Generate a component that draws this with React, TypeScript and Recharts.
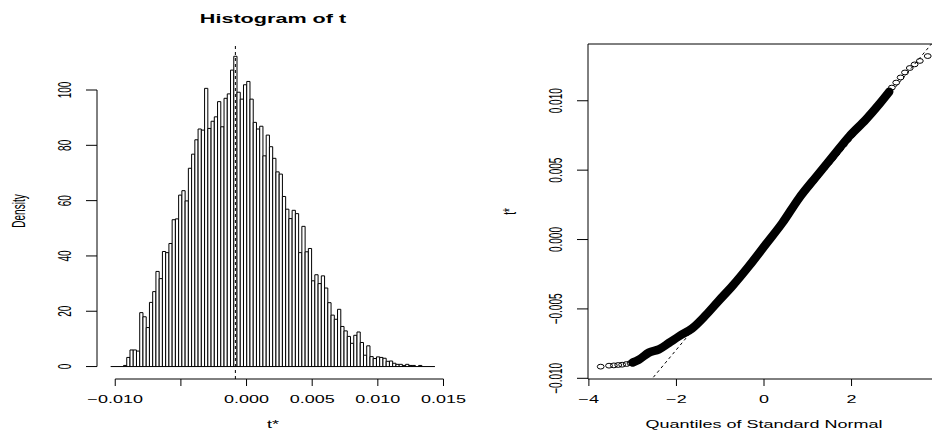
import React from 'react';
import {
  ComposedChart,
  Bar,
  Line,
  Scatter,
  XAxis,
  YAxis,
  ReferenceLine,
  ReferenceArea,
  Label,
} from 'recharts';

const FONT = '"Liberation Sans", Arial, Helvetica, sans-serif';
// the original device was stretched sideways, so text is widened
const STRETCH = 1.8;

// Histogram of t (100 equal bins)
const histStart = -0.01035;
const histBinWidth = 0.000247;
const histDensity = [
  0, 0, 0, 0, 0.4, 3.3, 6.0, 6.0, 5.6, 19.5,
  18.0, 14.1, 23.2, 27.1, 34.4, 31.8, 41.6, 41.2, 44.5, 53.1,
  53.4, 62.0, 63.6, 59.9, 71.7, 76.8, 82.0, 85.9, 85.5, 100.6,
  86.1, 88.7, 90.3, 95.8, 86.7, 97.0, 98.6, 107.2, 112.2, 99.2,
  96.7, 101.9, 103.1, 96.7, 88.3, 85.9, 86.9, 76.2, 83.7, 79.5,
  75.3, 70.4, 69.6, 61.5, 56.9, 53.5, 56.5, 55.3, 41.2, 50.7,
  41.5, 42.7, 31.0, 33.2, 30.0, 32.8, 28.4, 23.1, 18.6, 17.1,
  20.7, 14.5, 12.9, 10.9, 8.4, 11.3, 12.5, 8.7, 4.1, 7.5,
  3.6, 2.9, 3.5, 3.3, 3.0, 1.9, 2.0, 1.2, 0.8, 0.8,
  0.4, 0.8, 0.4, 0.4, 0, 0.4, 0, 0, 0, 0,
];
const t0 = -0.00085;
const histXTicks = [-0.01, -0.005, 0, 0.005, 0.01, 0.015];
const histXTickLabels = ['\u22120.010', '', '0.000', '0.005', '0.010', '0.015'];
const histYTicks = [0, 20, 40, 60, 80, 100];
const histYTickLabels = ['0', '20', '40', '60', '80', '100'];

// Normal QQ plot of t*
const qqLowTail = [
  { q: -3.73, t: -0.00916 },
  { q: -3.54, t: -0.00909 },
  { q: -3.43, t: -0.00907 },
  { q: -3.33, t: -0.00904 },
  { q: -3.24, t: -0.00902 },
  { q: -3.14, t: -0.00897 },
  { q: -3.05, t: -0.0089 },
];
const qqBody = [
  { q: -3.0, t: -0.00886 },
  { q: -2.86, t: -0.00866 },
  { q: -2.63, t: -0.00815 },
  { q: -2.4, t: -0.00792 },
  { q: -2.17, t: -0.00745 },
  { q: -1.94, t: -0.00697 },
  { q: -1.64, t: -0.0064 },
  { q: -1.33, t: -0.00545 },
  { q: -1.03, t: -0.0044 },
  { q: -0.72, t: -0.00334 },
  { q: -0.34, t: -0.0019 },
  { q: 0.04, t: -0.00035 },
  { q: 0.42, t: 0.0012 },
  { q: 0.8, t: 0.00298 },
  { q: 1.18, t: 0.00448 },
  { q: 1.57, t: 0.00598 },
  { q: 1.95, t: 0.00744 },
  { q: 2.33, t: 0.00866 },
  { q: 2.63, t: 0.00975 },
  { q: 2.86, t: 0.01065 },
];
const qqHighTail = [
  { q: 2.92, t: 0.01095 },
  { q: 3.02, t: 0.01131 },
  { q: 3.12, t: 0.01168 },
  { q: 3.22, t: 0.01204 },
  { q: 3.33, t: 0.01236 },
  { q: 3.44, t: 0.01262 },
  { q: 3.56, t: 0.01287 },
  { q: 3.74, t: 0.01322 },
];
// mean(t) + sd(t) * q, end points
const qqLine = [
  { q: -4.02, t: -0.01557 },
  { q: 4.02, t: 0.01483 },
];
const qqXTicks = [-4, -2, 0, 2];
const qqXTickLabels = ['\u22124', '\u22122', '0', '2'];
const qqYTicks = [-0.01, -0.005, 0, 0.005, 0.01];
const qqYTickLabels = ['\u22120.010', '\u22120.005', '0.000', '0.005', '0.010'];

const histBins = histDensity.map((density, i) => ({
  mid: histStart + (i + 0.5) * histBinWidth,
  density,
}));

const HIST_X_DOMAIN: [number, number] = [-0.01139, 0.01542];
const HIST_Y_DOMAIN: [number, number] = [-4.5, 117];
const QQ_X_DOMAIN: [number, number] = [-4.02, 4.02];
const QQ_Y_DOMAIN: [number, number] = [-0.01005, 0.01409];
const PLOT_W = 352;
const BIN_PX = (PLOT_W * histBinWidth) / (HIST_X_DOMAIN[1] - HIST_X_DOMAIN[0]);

const textStyle = { fontFamily: FONT, fill: '#000' };

const makeXTick = (ticks: number[], labels: string[]) => (props: any) => {
  const { x, y, payload } = props;
  const i = ticks.findIndex(v => Math.abs(v - payload.value) < 1e-9);
  const label = i >= 0 ? labels[i] : '';
  return (
    <text
      transform={`translate(${x},${y + 17}) scale(${STRETCH},1)`}
      textAnchor="middle"
      fontSize={10}
      style={textStyle}
    >
      {label}
    </text>
  );
};

const makeYTick = (ticks: number[], labels: string[]) => (props: any) => {
  const { x, y, payload } = props;
  const i = ticks.findIndex(v => Math.abs(v - payload.value) < 1e-9);
  const label = i >= 0 ? labels[i] : '';
  return (
    <text
      transform={`translate(${x - 15},${y}) scale(${STRETCH},1) rotate(-90)`}
      textAnchor="middle"
      fontSize={10}
      style={textStyle}
    >
      {label}
    </text>
  );
};

const xTitle = (text: string) => (props: any) => {
  const vb = props.viewBox;
  return (
    <text
      transform={`translate(${vb.x + vb.width / 2},${vb.y + 49}) scale(${STRETCH},1)`}
      textAnchor="middle"
      fontSize={10}
      style={textStyle}
    >
      {text}
    </text>
  );
};

const yTitle = (text: string) => (props: any) => {
  const vb = props.viewBox;
  return (
    <text
      transform={`translate(${vb.x + vb.width - 72},${vb.y + vb.height / 2}) scale(${STRETCH},1) rotate(-90)`}
      textAnchor="middle"
      fontSize={10}
      style={textStyle}
    >
      {text}
    </text>
  );
};

function HistBar(props: any) {
  const { x, width, y, height } = props;
  if (!height || height <= 0) return null;
  const cx = x + width / 2;
  return (
    <path
      d={`M${cx - BIN_PX / 2},${y + height}V${y}H${cx + BIN_PX / 2}V${y + height}`}
      fill="#fff"
      stroke="#000"
      strokeWidth={1}
    />
  );
}

function Ring(props: any) {
  const { cx, cy } = props;
  return <ellipse cx={cx} cy={cy} rx={3.4} ry={2.4} fill="none" stroke="#000" strokeWidth={1} />;
}

function Histogram() {
  return (
    <ComposedChart
      width={466}
      height={432}
      data={histBins}
      margin={{ top: 43, right: 17, bottom: 0, left: 0 }}
    >
      <XAxis
        dataKey="mid"
        type="number"
        domain={HIST_X_DOMAIN}
        ticks={histXTicks}
        interval={0}
        height={53}
        axisLine={false}
        tickLine={{ stroke: '#000' }}
        tickSize={7}
        tickMargin={0}
        tick={makeXTick(histXTicks, histXTickLabels)}
      >
        <Label content={xTitle('t*')} />
      </XAxis>
      <YAxis
        type="number"
        domain={HIST_Y_DOMAIN}
        ticks={histYTicks}
        interval={0}
        width={97}
        axisLine={false}
        tickLine={{ stroke: '#000' }}
        tickSize={11}
        tickMargin={0}
        tick={makeYTick(histYTicks, histYTickLabels)}
      >
        <Label content={yTitle('Density')} />
      </YAxis>
      <ReferenceLine
        segment={[{ x: histStart, y: 0 }, { x: histStart + histDensity.length * histBinWidth, y: 0 }]}
        stroke="#000"
        strokeWidth={1}
      />
      <Bar dataKey="density" barSize={3} shape={<HistBar />} isAnimationActive={false} />
      <ReferenceLine x={t0} stroke="#000" strokeDasharray="3 3" strokeWidth={1} />
      {/* axis lines only span the tick range, as in base R */}
      <ReferenceLine
        segment={[{ x: histXTicks[0], y: HIST_Y_DOMAIN[0] }, { x: histXTicks[histXTicks.length - 1], y: HIST_Y_DOMAIN[0] }]}
        stroke="#000"
      />
      <ReferenceLine
        segment={[{ x: HIST_X_DOMAIN[0], y: histYTicks[0] }, { x: HIST_X_DOMAIN[0], y: histYTicks[histYTicks.length - 1] }]}
        stroke="#000"
      />
    </ComposedChart>
  );
}

function QQPlot() {
  return (
    <ComposedChart width={480} height={432} margin={{ top: 44, right: 6, bottom: 0, left: 0 }}>
      <XAxis
        dataKey="q"
        type="number"
        domain={QQ_X_DOMAIN}
        allowDataOverflow
        ticks={qqXTicks}
        interval={0}
        height={53}
        axisLine={false}
        tickLine={{ stroke: '#000' }}
        tickSize={7}
        tickMargin={0}
        tick={makeXTick(qqXTicks, qqXTickLabels)}
      >
        <Label content={xTitle('Quantiles of Standard Normal')} />
      </XAxis>
      <YAxis
        dataKey="t"
        type="number"
        domain={QQ_Y_DOMAIN}
        allowDataOverflow
        ticks={qqYTicks}
        interval={0}
        width={122}
        axisLine={false}
        tickLine={{ stroke: '#000' }}
        tickSize={11}
        tickMargin={0}
        tick={makeYTick(qqYTicks, qqYTickLabels)}
      >
        <Label content={yTitle('t*')} />
      </YAxis>
      <ReferenceArea
        x1={QQ_X_DOMAIN[0]}
        x2={QQ_X_DOMAIN[1]}
        y1={QQ_Y_DOMAIN[0]}
        y2={QQ_Y_DOMAIN[1]}
        fill="none"
        stroke="#000"
        strokeWidth={1}
      />
      <Line
        data={qqBody}
        dataKey="t"
        type="monotone"
        stroke="#000"
        strokeWidth={8.5}
        strokeLinejoin="round"
        strokeLinecap="round"
        dot={false}
        isAnimationActive={false}
      />
      <Scatter data={qqLowTail} dataKey="t" shape={<Ring />} isAnimationActive={false} />
      <Scatter data={qqHighTail} dataKey="t" shape={<Ring />} isAnimationActive={false} />
      <Line
        data={qqLine}
        dataKey="t"
        stroke="#000"
        strokeWidth={1}
        strokeDasharray="3 3"
        dot={false}
        isAnimationActive={false}
      />
    </ComposedChart>
  );
}

export default function App() {
  return (
    <div
      style={{
        position: 'absolute',
        left: 0,
        top: 0,
        width: 932,
        height: 432,
        overflow: 'hidden',
        background: '#fff',
      }}
    >
      <div style={{ position: 'absolute', left: 0, top: 0 }}>
        <Histogram />
      </div>
      <div style={{ position: 'absolute', left: 466, top: 0 }}>
        <QQPlot />
      </div>
      <svg width={466} height={40} style={{ position: 'absolute', left: 0, top: 0, pointerEvents: 'none' }}>
        <text
          transform={`translate(273,23) scale(${STRETCH},1)`}
          textAnchor="middle"
          fontSize={12}
          fontWeight="bold"
          style={textStyle}
        >
          Histogram of t
        </text>
      </svg>
    </div>
  );
}
